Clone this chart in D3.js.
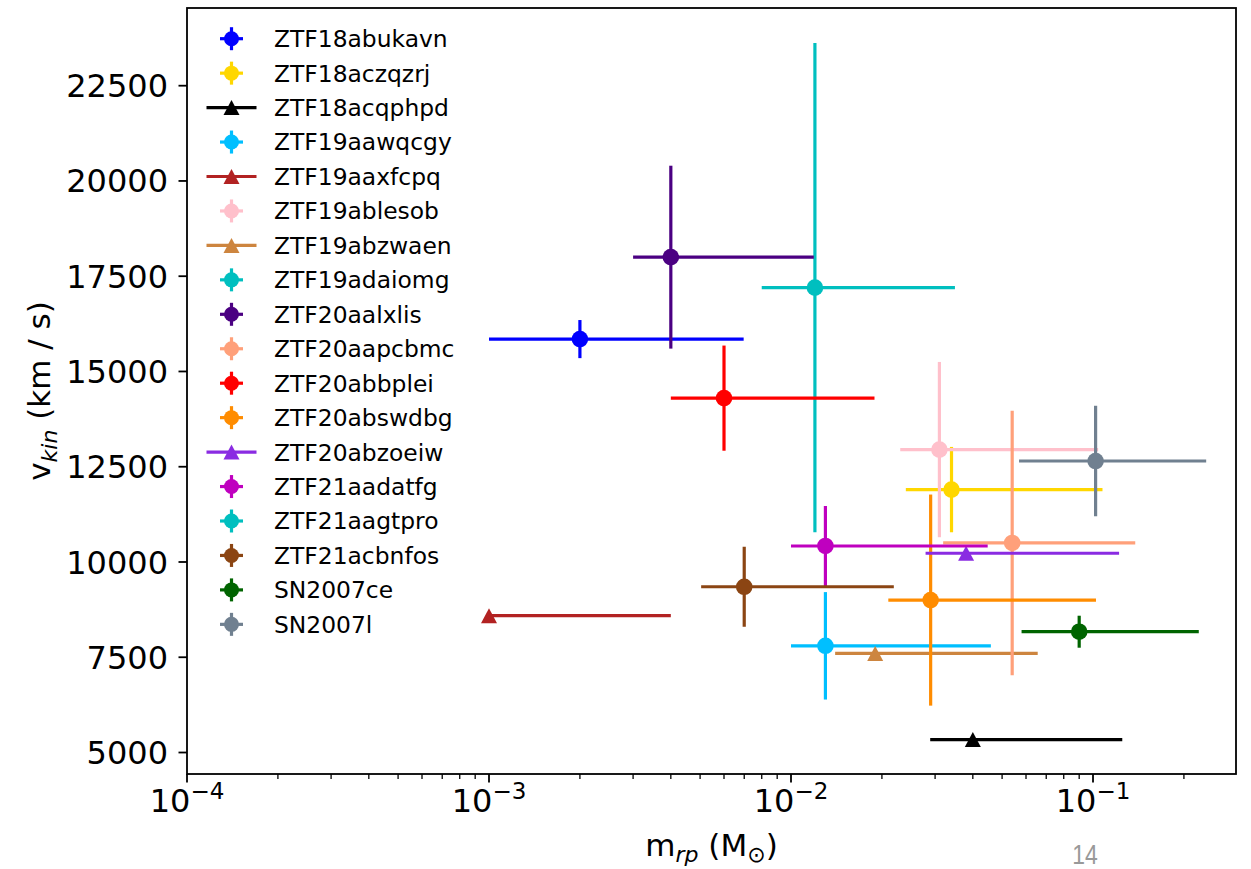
<!DOCTYPE html>
<html>
<head>
<meta charset="utf-8">
<script src="https://cdn.jsdelivr.net/npm/d3@7"></script>
<style>
  html, body { margin: 0; padding: 0; background: #fff; }
  svg { display: block; font-family: "DejaVu Sans", sans-serif; }
</style>
</head>
<body>
<svg id="chart" width="1251" height="869"></svg>
<script>
// ---- data ----
const names = ["ZTF18abukavn","ZTF18aczqzrj","ZTF18acqphpd","ZTF19aawqcgy","ZTF19aaxfcpq","ZTF19ablesob","ZTF19abzwaen","ZTF19adaiomg","ZTF20aalxlis","ZTF20aapcbmc","ZTF20abbplei","ZTF20abswdbg","ZTF20abzoeiw","ZTF21aadatfg","ZTF21aagtpro","ZTF21acbnfos","SN2007ce","SN2007l"];
const colors = ["#0000ff","#ffd700","#000000","#00bfff","#b22222","#ffc0cb","#cd853f","#00bfbf","#4b0082","#ffa07a","#ff0000","#ff8c00","#8a2be2","#bf00bf","#00bfbf","#8b4513","#006400","#708090"];
const markers = ["o","o","^","o","^","o","^","o","o","o","o","o","^","o","o","o","o","o"];
const mass =     [0.002, 0.034, 0.040, 0.013, 0.0010, 0.031, 0.019, 0.012, 0.0040, 0.054, 0.0060, 0.029, 0.038, 0.013, null, 0.0070, 0.090, 0.102];
const massLow =  [0.0010,0.024, 0.0289,0.010, 0.0010, 0.0230,0.0140,0.0080,0.0030,0.0319,0.0040,0.0210,0.0279,0.010, null, 0.00504,0.0580,0.0569];
const massHigh = [0.00697,0.1075,0.125,0.0459,0.0040,0.104, 0.0656,0.0349,0.0119,0.138, 0.0189,0.1023,0.122, 0.0448,null, 0.0219,0.224, 0.237];
const vel =      [15850, 11900, 5340, 7800, 8590, 12950, 7600, 17200, 18000, 10500, 14300, 9000, 10230, 10420, null, 9350, 8170, 12650];
const velErr =   [500,   1120,  null, 1410, null, 2300,  null, 6420,  2400,  3470,  1380,  2770, null,  1050,  null, 1050, 420,  1450];
const yTicks = [5000, 7500, 10000, 12500, 15000, 17500, 20000, 22500];
const xTickExps = [-4, -3, -2, -1];

// ---- layout ----
const L = 187, R = 1236, T = 8, B = 774;
const svg = d3.select("#chart");
const x = d3.scaleLog().domain([1e-4, 0.2975]).range([L, R]);
const y = d3.scaleLinear().domain([4436, 24539]).range([B, T]);

svg.append("defs").append("clipPath").attr("id","clip")
  .append("rect").attr("x", L).attr("y", T).attr("width", R-L).attr("height", B-T);

const plot = svg.append("g").attr("clip-path","url(#clip)");

const data = names.map((n,i)=>({n, c:colors[i], m:markers[i], x:mass[i], xl:massLow[i], xh:massHigh[i], y:vel[i], ye:velErr[i]}))
  .filter(d => d.x != null);

const tri = (cx, cy, w, h) => `M${cx},${cy-h/2}L${cx-w/2},${cy+h/2}L${cx+w/2},${cy+h/2}Z`;
const LW = 3.2;

data.forEach(d => {
  const g = plot.append("g");
  g.append("line").attr("x1", x(d.xl)).attr("x2", x(d.xh)).attr("y1", y(d.y)).attr("y2", y(d.y))
    .attr("stroke", d.c).attr("stroke-width", LW);
  if (d.ye != null) {
    g.append("line").attr("x1", x(d.x)).attr("x2", x(d.x)).attr("y1", y(d.y - d.ye)).attr("y2", y(d.y + d.ye))
      .attr("stroke", d.c).attr("stroke-width", LW);
  }
  if (d.m === "o") {
    g.append("circle").attr("cx", x(d.x)).attr("cy", y(d.y)).attr("r", 8.3).attr("fill", d.c);
  } else {
    g.append("path").attr("d", tri(x(d.x), y(d.y), 16, 15)).attr("fill", d.c);
  }
});

// ---- axes ----
const axisG = svg.append("g");
yTicks.forEach(t => {
  const py = y(t);
  axisG.append("line").attr("x1", L-8.5).attr("x2", L).attr("y1", py).attr("y2", py)
    .attr("stroke","#000").attr("stroke-width",1.8);
  axisG.append("text").attr("x", L-19).attr("y", py).attr("dy","0.36em")
    .attr("text-anchor","end").attr("font-size", 32).attr("fill","#000").text(t);
});
xTickExps.forEach(e => {
  const px = x(Math.pow(10, e));
  axisG.append("line").attr("x1", px).attr("x2", px).attr("y1", B).attr("y2", B+8.5)
    .attr("stroke","#000").attr("stroke-width",1.8);
  const t = axisG.append("text").attr("x", px).attr("y", 812)
    .attr("text-anchor","middle").attr("font-size", 32).attr("fill","#000");
  t.append("tspan").text("10");
  t.append("tspan").attr("dy", -13).attr("font-size", 23).text("\u2212" + Math.abs(e));
});
for (let e = -4; e <= -1; e++) {
  for (let k = 2; k <= 9; k++) {
    const v = k * Math.pow(10, e);
    if (v > x.domain()[1]) continue;
    const px = x(v);
    axisG.append("line").attr("x1", px).attr("x2", px).attr("y1", B).attr("y2", B+5)
      .attr("stroke","#000").attr("stroke-width",1.3);
  }
}
svg.append("rect").attr("x", L).attr("y", T).attr("width", R-L).attr("height", B-T)
  .attr("fill","none").attr("stroke","#000").attr("stroke-width",1.8);

// axis labels
const xl = svg.append("text").attr("x", (L+R)/2).attr("y", 856).attr("text-anchor","middle")
  .attr("font-size", 31).attr("fill","#000");
xl.append("tspan").text("m");
xl.append("tspan").attr("dy", 6).attr("font-size", 22).attr("font-style","italic").text("rp");
xl.append("tspan").attr("dy", -6).text(" (M");
xl.append("tspan").attr("dy", 6).attr("font-size", 22).text("\u2299");
xl.append("tspan").attr("dy", -6).text(")");

const yl = svg.append("text").attr("transform", `translate(50,${(T+B)/2}) rotate(-90)`)
  .attr("text-anchor","middle").attr("font-size", 31).attr("fill","#000");
yl.append("tspan").text("v");
yl.append("tspan").attr("dy", 7).attr("font-size", 22).attr("font-style","italic").text("kin");
yl.append("tspan").attr("dy", -7).text(" (km / s)");

// page number
svg.append("text").attr("x", 0).attr("y", 0).attr("text-anchor","middle")
  .attr("font-size", 28).attr("fill","#999").attr("font-family","'Liberation Sans', sans-serif")
  .attr("transform","translate(1085,864) scale(0.82,1)")
  .text("14");

// ---- legend ----
const leg = svg.append("g");
names.forEach((n, i) => {
  const cy = 38.7 + i * 34.45;
  const cx = 231.5;
  const c = colors[i];
  if (markers[i] === "^") {
    leg.append("line").attr("x1", cx-25).attr("x2", cx+25).attr("y1", cy).attr("y2", cy)
      .attr("stroke", c).attr("stroke-width", LW);
    leg.append("path").attr("d", tri(cx, cy, 16, 15)).attr("fill", c);
  } else {
    leg.append("line").attr("x1", cx-11.5).attr("x2", cx+11.5).attr("y1", cy).attr("y2", cy)
      .attr("stroke", c).attr("stroke-width", LW);
    leg.append("line").attr("x1", cx).attr("x2", cx).attr("y1", cy-11.5).attr("y2", cy+11.5)
      .attr("stroke", c).attr("stroke-width", LW);
    leg.append("circle").attr("cx", cx).attr("cy", cy).attr("r", 7.5).attr("fill", c);
  }
  leg.append("text").attr("x", 274).attr("y", cy).attr("dy", "0.36em")
    .attr("font-size", 23.4).attr("fill", "#000").text(n);
});
</script>
</body>
</html>
